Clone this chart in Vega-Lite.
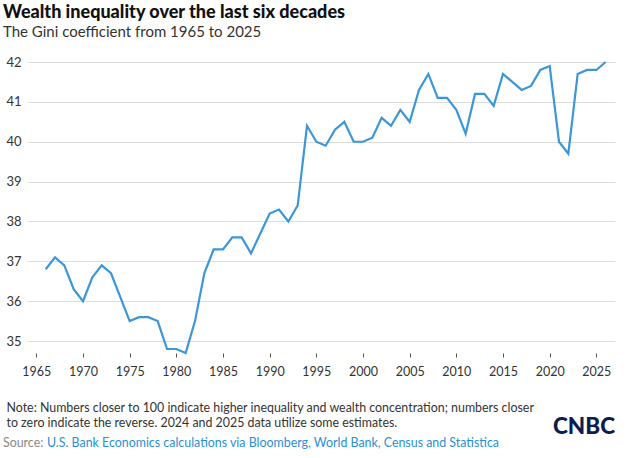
{
  "$schema": "https://vega.github.io/schema/vega-lite/v6.json",
  "padding": {"left": 3, "top": 4, "right": 5, "bottom": 5},
  "background": "white",
  "config": {"view": {"stroke": null}, "font": "Lato"},
  "title": {
    "text": "Wealth inequality over the last six decades",
    "subtitle": "The Gini coefficient from 1965 to 2025",
    "anchor": "start",
    "frame": "bounds",
    "font": "Lato",
    "fontSize": 18,
    "fontWeight": 900,
    "color": "#111111",
    "subtitleFont": "Lato",
    "subtitleFontSize": 15,
    "subtitleColor": "#333333",
    "subtitlePadding": 3,
    "offset": 16
  },
  "spacing": -3,
  "vconcat": [
    {
      "width": 588,
      "height": 291,
      "data": {
        "values": [
          {"year": 1966, "gini": 36.8}, {"year": 1967, "gini": 37.1}, {"year": 1968, "gini": 36.9},
          {"year": 1969, "gini": 36.3}, {"year": 1970, "gini": 36.0}, {"year": 1971, "gini": 36.6},
          {"year": 1972, "gini": 36.9}, {"year": 1973, "gini": 36.7}, {"year": 1974, "gini": 36.1},
          {"year": 1975, "gini": 35.5}, {"year": 1976, "gini": 35.6}, {"year": 1977, "gini": 35.6},
          {"year": 1978, "gini": 35.5}, {"year": 1979, "gini": 34.8}, {"year": 1980, "gini": 34.8},
          {"year": 1981, "gini": 34.7}, {"year": 1982, "gini": 35.5}, {"year": 1983, "gini": 36.7},
          {"year": 1984, "gini": 37.3}, {"year": 1985, "gini": 37.3}, {"year": 1986, "gini": 37.6},
          {"year": 1987, "gini": 37.6}, {"year": 1988, "gini": 37.2}, {"year": 1989, "gini": 37.7},
          {"year": 1990, "gini": 38.2}, {"year": 1991, "gini": 38.3}, {"year": 1992, "gini": 38.0},
          {"year": 1993, "gini": 38.4}, {"year": 1994, "gini": 40.4}, {"year": 1995, "gini": 40.0},
          {"year": 1996, "gini": 39.9}, {"year": 1997, "gini": 40.3}, {"year": 1998, "gini": 40.5},
          {"year": 1999, "gini": 40.0}, {"year": 2000, "gini": 40.0}, {"year": 2001, "gini": 40.1},
          {"year": 2002, "gini": 40.6}, {"year": 2003, "gini": 40.4}, {"year": 2004, "gini": 40.8},
          {"year": 2005, "gini": 40.5}, {"year": 2006, "gini": 41.3}, {"year": 2007, "gini": 41.7},
          {"year": 2008, "gini": 41.1}, {"year": 2009, "gini": 41.1}, {"year": 2010, "gini": 40.8},
          {"year": 2011, "gini": 40.2}, {"year": 2012, "gini": 41.2}, {"year": 2013, "gini": 41.2},
          {"year": 2014, "gini": 40.9}, {"year": 2015, "gini": 41.7}, {"year": 2016, "gini": 41.5},
          {"year": 2017, "gini": 41.3}, {"year": 2018, "gini": 41.4}, {"year": 2019, "gini": 41.8},
          {"year": 2020, "gini": 41.9}, {"year": 2021, "gini": 40.0}, {"year": 2022, "gini": 39.7},
          {"year": 2023, "gini": 41.7}, {"year": 2024, "gini": 41.8}, {"year": 2025, "gini": 41.8},
          {"year": 2026, "gini": 42.0}
        ]
      },
      "layer": [
        {
          "mark": {"type": "line", "color": "#3b97d8", "strokeWidth": 2.2},
          "encoding": {
            "x": {
              "field": "year",
              "type": "quantitative",
              "scale": {"domain": [1964, 2027], "nice": false, "zero": false},
              "axis": {
                "values": [1965, 1970, 1975, 1980, 1985, 1990, 1995, 2000, 2005, 2010, 2015, 2020, 2025],
                "format": "d",
                "domain": false,
                "grid": false,
                "ticks": true,
                "tickSize": 4,
                "tickColor": "#555555",
                "labelFontSize": 12.5,
                "labelColor": "#333333",
                "labelPadding": 8,
                "title": [
                  "Note: Numbers closer to 100 indicate higher inequality and wealth concentration; numbers closer",
                  "to zero indicate the reverse. 2024 and 2025 data utilize some estimates."
                ],
                "titleX": -21,
                "titleY": 48,
                "titleAlign": "left",
                "titleAnchor": "start",
                "titleBaseline": "top",
                "titleFontSize": 12.4,
                "titleFontWeight": "normal",
                "titleColor": "#333333",
                "titleLineHeight": 15
              }
            },
            "y": {
              "field": "gini",
              "type": "quantitative",
              "scale": {"domain": [34.7, 42], "nice": false, "zero": false},
              "axis": {
                "values": [35, 36, 37, 38, 39, 40, 41, 42],
                "domain": false,
                "ticks": false,
                "grid": true,
                "gridColor": "#dddddd",
                "labelFontSize": 13,
                "labelColor": "#333333",
                "labelPadding": 6,
                "title": null
              }
            }
          }
        },
        {
          "data": {"values": [{}]},
          "mark": {"type": "text", "text": "CNBC", "font": "Lato", "fontSize": 22.5, "fontWeight": 900, "color": "#0c1c4e", "align": "right", "baseline": "middle"},
          "encoding": {"x": {"datum": 2027}, "y": {"datum": 32.85}}
        }
      ]
    },
    {
      "spacing": 3,
      "hconcat": [
        {
          "width": 1, "height": 1,
          "data": {"values": []},
          "mark": "text",
          "title": {"text": "Source:", "anchor": "start", "font": "Lato", "fontSize": 12.4, "fontWeight": "normal", "color": "#888888", "offset": 0, "dx": -24}
        },
        {
          "width": 1, "height": 1,
          "data": {"values": []},
          "mark": "text",
          "title": {"text": "U.S. Bank Economics calculations via Bloomberg, World Bank, Census and Statistica", "anchor": "start", "font": "Lato", "fontSize": 12.4, "fontWeight": "normal", "color": "#2a8fd6", "offset": 0, "dx": -24}
        }
      ]
    }
  ]
}
